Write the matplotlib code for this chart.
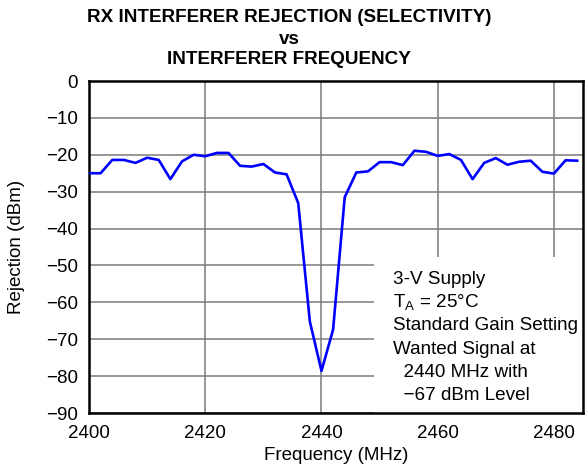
import numpy as np
import matplotlib
matplotlib.use("Agg")
import matplotlib.pyplot as plt
from matplotlib.patches import Rectangle

plt.rcParams['font.family'] = ['Liberation Sans', 'DejaVu Sans']

freq = np.arange(2400, 2486, 2)
rejection = [-25.0, -25.0, -21.4, -21.4, -22.2, -20.8, -21.4, -26.6, -21.8, -20.0,
             -20.4, -19.5, -19.5, -23.0, -23.2, -22.5, -24.8, -25.3, -33.1, -65.2,
             -78.6, -67.4, -31.5, -24.8, -24.5, -22.0, -22.0, -22.8, -18.9, -19.2,
             -20.3, -19.8, -21.4, -26.6, -22.2, -20.9, -22.7, -21.9, -21.6, -24.6,
             -25.1, -21.5, -21.6]

xticks = [2400, 2420, 2440, 2460, 2480]
yticks = np.arange(-90, 1, 10)
notes = ["3-V Supply", "T$_\\mathregular{A}$ = 25°C", "Standard Gain Setting",
         "Wanted Signal at", "  2440 MHz with", "  \u221267 dBm Level"]

fig = plt.figure(figsize=(5.85, 4.69), dpi=100)
ax = fig.add_axes([89/585, 1 - 413/469, 494/585, 332/469])

ax.plot(freq, rejection, color='#0000ff', lw=1.9, zorder=3)

ax.set_xlim(2400, 2485)
ax.set_ylim(-90, 0)
ax.set_xticks(xticks)
ax.set_yticks(yticks)
ax.set_yticklabels([str(v).replace('-', '\u2212') for v in yticks])
ax.tick_params(length=0, labelsize=13.5)
ax.tick_params(axis='x', pad=8.5)
ax.tick_params(axis='y', pad=8)
ax.grid(True, color='#7a7a7a', lw=1.1)
ax.set_axisbelow(True)
for s in ax.spines.values():
    s.set_linewidth(1.8)
    s.set_color('black')

# white box behind the notes hides the grid
ax.add_patch(Rectangle((2449.1, -90), 40, 42.3, facecolor='white',
                       edgecolor='none', zorder=1.5))
y0 = 280
for i, t in enumerate(notes):
    fig.text(393/585, 1 - (y0 + i*23)/469, t, fontsize=13.6, va='center', ha='left')

fig.text(336/585, 1 - 455/469, "Frequency (MHz)", fontsize=13.5, ha='center', va='center')
fig.text(17/585, 1 - 247/469, "Rejection (dBm)", fontsize=13.5, ha='center', va='center',
         rotation=90)

fig.text(289/585, 1 - 17/469, "RX INTERFERER REJECTION (SELECTIVITY)",
         ha='center', va='center', fontsize=13.6, fontweight='bold')
fig.text(289/585, 1 - 39/469, "vs", ha='center', va='center', fontsize=13.6, fontweight='bold')
fig.text(289/585, 1 - 59/469, "INTERFERER FREQUENCY",
         ha='center', va='center', fontsize=13.6, fontweight='bold')

fig.savefig("out.png", dpi=100)
